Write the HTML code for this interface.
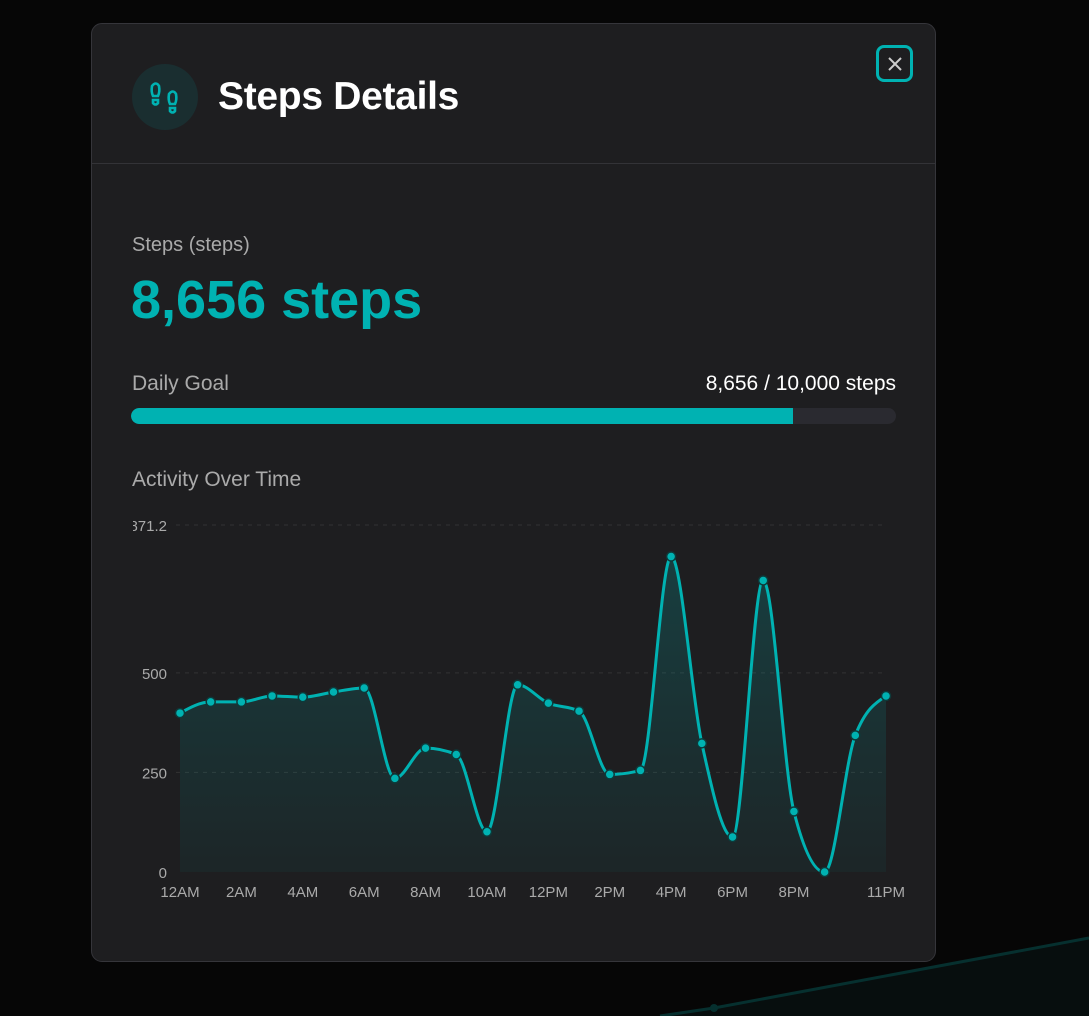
<!DOCTYPE html>
<html><head><meta charset="utf-8"><style>
body{margin:0;width:1089px;height:1016px;background:#060606;overflow:hidden;font-family:"Liberation Sans",sans-serif;position:relative}
.modal{position:absolute;left:91px;top:23px;width:845px;height:939px;background:#1e1e20;border:1px solid #35353a;border-radius:11px;box-sizing:border-box}
.abs{position:absolute}
</style></head><body>
<svg class="abs" style="left:0;top:0" width="1089" height="1016">
<path d="M660 1016 L714 1008 L1089 938 L1089 1016 Z" fill="#070e0e"/>
<path d="M660 1016 L714 1008 L1089 938" stroke="#06302f" stroke-width="3" fill="none"/>
<circle cx="714" cy="1008" r="4" fill="#06302f"/>
</svg>
<div class="modal">
<div class="abs" style="left:40px;top:40px;width:66px;height:66px;border-radius:50%;background:#1a2e30">
<svg width="66" height="66" viewBox="0 0 66 66"><g fill="none" stroke="#00b2b2" stroke-width="2.6"><path d="M20 22 q4-5 7 0 q1 6-1 10 h-5 q-2-4-1-10z"/><path d="M21 36 h5 v3 q-2.5 3-5 0z"/><path d="M37 30 q4-5 7 0 q1 6-1 10 h-5 q-2-4-1-10z"/><path d="M38 44 h5 v3 q-2.5 3-5 0z"/></g></svg></div>
<div class="abs" style="left:126px;top:51px;font-size:39px;font-weight:bold;color:#fff;letter-spacing:-0.3px">Steps Details</div>
<div class="abs" style="left:784px;top:21px;width:37px;height:37px;border:3px solid #00b2b2;border-radius:8px;box-sizing:border-box;display:flex;align-items:center;justify-content:center">
<svg width="18" height="18"><path d="M3 3L15 15M15 3L3 15" stroke="#ccc" stroke-width="2"/></svg></div>
<div class="abs" style="left:0;top:139px;width:843px;height:1px;background:#333337"></div>
<div class="abs" style="left:40px;top:210px;font-size:20px;color:#aaa">Steps (steps)</div>
<div class="abs" style="left:39px;top:245px;font-size:54px;font-weight:bold;color:#00b2b2">8,656 steps</div>
<div class="abs" style="left:40px;top:348px;font-size:21px;color:#aaa">Daily Goal</div>
<div class="abs" style="right:39px;top:348px;font-size:21px;color:#fff">8,656 / 10,000 steps</div>
<div class="abs" style="left:39px;top:384px;width:765px;height:16px;border-radius:8px;background:#2a2a30;overflow:hidden">
<div style="width:86.56%;height:100%;background:#00b2b2;border-radius:8px 0 0 8px"></div></div>
<div class="abs" style="left:40px;top:444px;font-size:21px;color:#aaa">Activity Over Time</div>
</div>
<svg id="chart" class="abs" style="left:0;top:0" width="1089" height="1016"></svg>
<script>
const hours=[0,1,2,3,4,5,6,7,8,9,10,11,12,13,14,15,16,17,18,19,20,21,22,23];
const steps=[399,427,427,442,439,452,462,235,311,295,101,470,424,404,245,255,792,323,88,732,152,0,343,442];
const yTicks=[0,250,500,871.2];
const xTickHours=[0,2,4,6,8,10,12,14,16,18,20,23];
const xTickLabels=['12AM','2AM','4AM','6AM','8AM','10AM','12PM','2PM','4PM','6PM','8PM','11PM'];
const yMax=871.2;
const NS='http://www.w3.org/2000/svg';
const svg=document.getElementById('chart');
const X=h=>180+h*(886-180)/23;
const Y=v=>872-v*(872-525)/yMax;
function mk(t,a,p){const e=document.createElementNS(NS,t);for(const k in a)e.setAttribute(k,a[k]);(p||svg).appendChild(e);return e;}
const defs=mk('defs',{});
const cp=mk('clipPath',{id:'clip'},defs);mk('rect',{x:133,y:0,width:900,height:1016},cp);
const g=mk('linearGradient',{id:'fillg',x1:0,y1:0,x2:0,y2:1},defs);
mk('stop',{offset:0,'stop-color':'#00b2b2','stop-opacity':0.22},g);mk('stop',{offset:1,'stop-color':'#00b2b2','stop-opacity':0.05},g);
yTicks.forEach(t=>{
 if(t>0){const gl=mk('line',{x1:176,x2:886,y1:Y(t),y2:Y(t),stroke:'#333','stroke-dasharray':'4 5'});
 
 }
 const tx=mk('text',{x:167,y:Y(t)+6,'text-anchor':'end','font-size':15,fill:'#aaa','clip-path':'url(#clip)'});
 
 
 tx.textContent=String(t);
});
xTickHours.forEach((h,i)=>{
 const tx=mk('text',{x:X(h),y:897,'text-anchor':'middle','font-size':15,fill:'#aaa'});
 
 
 tx.textContent=xTickLabels[i];
});
const px=hours.map(X),py=steps.map(Y),n=px.length;
const base=Y(0);
const s=[];for(let i=0;i<n-1;i++)s.push((py[i+1]-py[i])/(px[i+1]-px[i]));
const t=new Array(n);
for(let i=1;i<n-1;i++){
 const h0=px[i]-px[i-1],h1=px[i+1]-px[i],p=(s[i-1]*h1+s[i]*h0)/(h0+h1);
 t[i]=(Math.sign(s[i-1])+Math.sign(s[i]))*Math.min(Math.abs(s[i-1]),Math.abs(s[i]),0.5*Math.abs(p))||0;
}
t[0]=(3*s[0]-t[1])/2;
t[n-1]=(3*s[n-2]-t[n-2])/2;
let dd='M'+px[0]+' '+py[0];
for(let i=0;i<n-1;i++){const h=(px[i+1]-px[i])/3;
 dd+=' C'+(px[i]+h)+' '+(py[i]+t[i]*h)+' '+(px[i+1]-h)+' '+(py[i+1]-t[i+1]*h)+' '+px[i+1]+' '+py[i+1];}
const area=mk('path',{d:dd+' L'+px[n-1]+' '+base+' L'+px[0]+' '+base+' Z',fill:'url(#fillg)'});


const line=mk('path',{d:dd,fill:'none',stroke:'#00b2b2','stroke-width':3});


for(let i=0;i<n;i++){
 const c=mk('circle',{cx:px[i],cy:py[i],r:4.5,fill:'#00b2b2',stroke:'#0d3a3a','stroke-width':1.5});
 
 
}
</script>
</body></html>
